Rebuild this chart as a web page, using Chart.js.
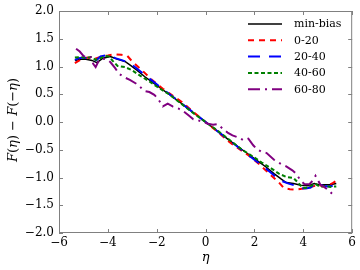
<!DOCTYPE html>
<html>
<head>
<meta charset="utf-8">
<script src="https://cdn.jsdelivr.net/npm/chart.js@4/dist/chart.umd.min.js"></script>
<style>
  html, body { margin: 0; padding: 0; background: #fff; }
  #wrap { width: 360px; height: 270px; }
</style>
</head>
<body>
<div id="wrap"><canvas id="chart" width="360" height="270"></canvas></div>
<script>
const xTicks = [-6, -4, -2, 0, 2, 4, 6];
const yTicks = [-2, -1.5, -1, -0.5, 0, 0.5, 1, 1.5, 2];

const seriesLabels = ['min-bias', '0-20', '20-40', '40-60', '60-80'];

const minBiasEta = [-5.35, -5.1, -4.9, -4.65, -4.45, -4.2, -3.9, -3.6, -3.3, -3.1, -2.8, -2.5, -2.0, -1.5, -1.0, -0.5, 0,
  0.5, 1.0, 1.5, 2.0, 2.5, 2.8, 3.1, 3.3, 3.6, 3.9, 4.2, 4.45, 4.65, 4.9, 5.1, 5.35];
const minBiasVal = [1.11, 1.13, 1.13, 1.11, 1.07, 1.15, 1.18, 1.13, 1.09, 1.03, 0.93, 0.82, 0.66, 0.5, 0.34, 0.17, 0,
  -0.17, -0.34, -0.5, -0.66, -0.82, -0.93, -1.03, -1.09, -1.11, -1.14, -1.15, -1.11, -1.13, -1.13, -1.13, -1.11];

const red020Eta = [-5.35, -5.2, -5.0, -4.8, -4.6, -4.4, -4.2, -4.0, -3.7, -3.45, -3.2, -3.0, -2.6, -2.2, -1.75, -1.0, -0.5, 0,
  0.5, 1.0, 1.75, 2.2, 2.6, 3.0, 3.2, 3.45, 3.7, 4.0, 4.2, 4.4, 4.6, 4.8, 5.0, 5.2, 5.35];
const red020Val = [1.06, 1.1, 1.15, 1.16, 1.13, 1.16, 1.19, 1.2, 1.22, 1.21, 1.19, 1.09, 0.93, 0.76, 0.6, 0.37, 0.18, 0,
  -0.18, -0.37, -0.6, -0.76, -0.93, -1.09, -1.19, -1.21, -1.22, -1.2, -1.19, -1.16, -1.13, -1.16, -1.15, -1.1, -1.06];

const blue2040Eta = [-5.35, -5.2, -5.0, -4.8, -4.6, -4.45, -4.3, -4.1, -3.9, -3.7, -3.4, -3.1, -2.8, -2.5, -2.0, -1.5, -1.0, -0.5, 0,
  0.5, 1.0, 1.5, 2.0, 2.5, 2.8, 3.1, 3.4, 3.7, 3.9, 4.1, 4.3, 4.45, 4.6, 4.8, 5.0, 5.2, 5.35];
const blue2040Val = [1.12, 1.15, 1.16, 1.15, 1.1, 1.12, 1.18, 1.2, 1.19, 1.15, 1.11, 1.06, 0.96, 0.85, 0.68, 0.51, 0.34, 0.17, 0,
  -0.17, -0.34, -0.51, -0.68, -0.85, -0.96, -1.06, -1.11, -1.15, -1.19, -1.2, -1.18, -1.12, -1.1, -1.15, -1.16, -1.15, -1.12];

const green4060Eta = [-5.35, -5.1, -4.9, -4.7, -4.5, -4.3, -4.1, -3.95, -3.8, -3.6, -3.3, -3.0, -2.7, -2.3, -2.0, -1.5, -1.0, -0.5, 0,
  0.5, 1.0, 1.5, 2.0, 2.3, 2.7, 3.0, 3.3, 3.6, 3.8, 3.95, 4.1, 4.3, 4.5, 4.7, 4.9, 5.1, 5.35];
const green4060Val = [1.16, 1.17, 1.15, 1.17, 1.12, 1.15, 1.19, 1.18, 1.1, 1.01, 0.99, 0.93, 0.84, 0.73, 0.64, 0.5, 0.33, 0.16, 0,
  -0.16, -0.33, -0.5, -0.64, -0.73, -0.84, -0.93, -0.99, -1.01, -1.1, -1.18, -1.19, -1.15, -1.12, -1.17, -1.15, -1.17, -1.16];

const purple6080Eta = [-5.3, -5.15, -5.0, -4.85, -4.7, -4.6, -4.5, -4.4, -4.25, -4.05, -3.9, -3.7, -3.55, -3.3, -3.1, -2.8, -2.5,
  -2.3, -2.1, -1.95, -1.75, -1.55, -1.35, -1.1, -0.9, -0.7, -0.5, -0.3, -0.1, 0.1, 0.3, 0.5, 0.7, 0.9, 1.1, 1.35, 1.55, 1.75,
  1.95, 2.1, 2.3, 2.5, 2.8, 3.1, 3.3, 3.55, 3.7, 3.9, 4.05, 4.25, 4.4, 4.5, 4.6, 4.7, 4.85, 5.0, 5.15, 5.3];
const purple6080Val = [1.32, 1.27, 1.19, 1.16, 1.17, 1.05, 0.99, 1.08, 1.14, 1.13, 1.08, 0.97, 0.87, 0.8, 0.76, 0.68, 0.56,
  0.54, 0.49, 0.42, 0.28, 0.33, 0.28, 0.24, 0.19, 0.12, 0.05, 0.03, 0.0, -0.03, -0.05, -0.04, -0.12, -0.19, -0.24, -0.28, -0.33, -0.3,
  -0.42, -0.49, -0.54, -0.56, -0.68, -0.76, -0.8, -0.87, -0.93, -1.06, -1.12, -1.12, -1.05, -0.97, -1.05, -1.13, -1.17, -1.22, -1.28, -1.31];

const serif = '"DejaVu Serif", serif';

function points(xs, ys) {
  return xs.map((x, i) => ({ x, y: ys[i] }));
}

function minusText(v, digits) {
  return v.toFixed(digits).replace('-', '\u2212');
}

// frame, inward ticks, axis titles and legend drawn the matplotlib way
const framePlugin = {
  id: 'frame',
  afterDatasetsDraw(chart) {
    const { ctx, chartArea: a, scales } = chart;
    const x = scales.x;
    const y = scales.y;
    ctx.save();
    ctx.strokeStyle = '#808080';
    ctx.lineWidth = 1;
    ctx.strokeRect(a.left + 0.5, a.top + 0.5, a.right - a.left - 1, a.bottom - a.top - 1);

    ctx.beginPath();
    xTicks.forEach((v) => {
      const px = Math.round(x.getPixelForValue(v)) + 0.5;
      ctx.moveTo(px, a.bottom); ctx.lineTo(px, a.bottom - 4);
      ctx.moveTo(px, a.top); ctx.lineTo(px, a.top + 4);
    });
    yTicks.forEach((v) => {
      const py = Math.round(y.getPixelForValue(v)) + 0.5;
      ctx.moveTo(a.left, py); ctx.lineTo(a.left + 4, py);
      ctx.moveTo(a.right, py); ctx.lineTo(a.right - 4, py);
    });
    ctx.stroke();

    // x title
    ctx.fillStyle = '#000';
    ctx.font = 'italic 13px ' + serif;
    ctx.textAlign = 'center';
    ctx.textBaseline = 'middle';
    ctx.fillText('\u03b7', (a.left + a.right) / 2, 258);

    // y title, mixed italic and upright parts
    const parts = [
      ['F', true], ['(', false], ['\u03b7', true], [')', false], [' \u2212 ', false],
      ['F', true], ['(\u2212', false], ['\u03b7', true], [')', false],
    ];
    const fontFor = (it) => (it ? 'italic ' : '') + '13px ' + serif;
    let total = 0;
    parts.forEach(([t, it]) => { ctx.font = fontFor(it); total += ctx.measureText(t).width; });
    ctx.translate(14, 120);
    ctx.rotate(-Math.PI / 2);
    ctx.textAlign = 'left';
    let cx = -total / 2;
    parts.forEach(([t, it]) => {
      ctx.font = fontFor(it);
      ctx.fillText(t, cx, 0);
      cx += ctx.measureText(t).width;
    });
    ctx.setTransform(1, 0, 0, 1, 0, 0);

    // legend
    ctx.font = '11px ' + serif;
    ctx.textAlign = 'left';
    ctx.textBaseline = 'middle';
    seriesLabels.forEach((label, i) => {
      const ds = chart.data.datasets.find((d) => d.label === label);
      const ly = 24 + i * 16.3;
      ctx.beginPath();
      ctx.strokeStyle = ds.borderColor;
      ctx.lineWidth = ds.borderWidth;
      ctx.setLineDash(ds.borderDash || []);
      ctx.moveTo(248, ly);
      ctx.lineTo(282, ly);
      ctx.stroke();
      ctx.setLineDash([]);
      ctx.fillStyle = '#000';
      ctx.fillText(label, 294, ly + 0.5);
    });
    ctx.restore();
  },
};

function lineSet(label, xs, ys, color, width, dash, order) {
  return {
    label,
    data: points(xs, ys),
    borderColor: color,
    borderWidth: width,
    borderDash: dash,
    pointRadius: 0,
    tension: 0,
    fill: false,
    order,
  };
}

new Chart(document.getElementById('chart'), {
  type: 'line',
  data: {
    datasets: [
      lineSet('min-bias', minBiasEta, minBiasVal, '#000000', 1.5, [], 5),
      lineSet('0-20', red020Eta, red020Val, '#ff0000', 2, [6, 5], 4),
      lineSet('20-40', blue2040Eta, blue2040Val, '#0000ff', 2, [12, 9], 3),
      lineSet('40-60', green4060Eta, green4060Val, '#008000', 2, [4, 2.5], 2),
      lineSet('60-80', purple6080Eta, purple6080Val, '#800080', 2, [12, 5, 2, 5], 1),
    ],
  },
  options: {
    responsive: false,
    animation: false,
    layout: { padding: { left: 0, top: 8, right: 7, bottom: 0 } },
    plugins: { legend: { display: false }, tooltip: { enabled: false } },
    scales: {
      x: {
        type: 'linear',
        min: -6,
        max: 6,
        grid: { display: false, drawTicks: false },
        border: { display: false },
        afterFit: (s) => { s.height = 37; },
        afterBuildTicks: (s) => { s.ticks = xTicks.map((v) => ({ value: v })); },
        ticks: {
          padding: 4,
          color: '#000',
          font: { family: serif, size: 12, lineHeight: 1 },
          maxRotation: 0,
          autoSkip: false,
          callback: (v) => minusText(v, 0),
        },
      },
      y: {
        type: 'linear',
        min: -2,
        max: 2,
        grid: { display: false, drawTicks: false },
        border: { display: false },
        afterFit: (s) => { s.width = 59; },
        afterBuildTicks: (s) => { s.ticks = yTicks.map((v) => ({ value: v })); },
        ticks: {
          padding: 5,
          color: '#000',
          font: { family: serif, size: 12, lineHeight: 1 },
          autoSkip: false,
          callback: (v) => minusText(v, 1),
        },
      },
    },
  },
  plugins: [framePlugin],
});
</script>
</body>
</html>
